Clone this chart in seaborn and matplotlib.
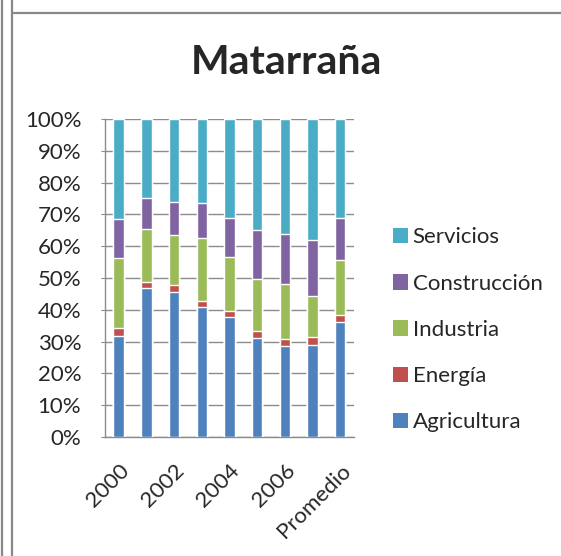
import matplotlib
matplotlib.use("Agg")
import matplotlib.pyplot as plt
import seaborn as sns
import pandas as pd
import numpy as np
from matplotlib.patches import Patch
from matplotlib.lines import Line2D
from matplotlib.ticker import PercentFormatter

# Data (share of each sector, %)
years = ["2000", "2001", "2002", "2003", "2004", "2005", "2006", "2007", "Promedio"]
agricultura = [31.8, 47.0, 45.7, 40.8, 37.6, 31.1, 28.7, 29.0, 36.3]
energia = [2.5, 1.8, 2.0, 2.0, 1.9, 2.1, 2.0, 2.5, 2.0]
industria = [21.9, 16.6, 15.7, 19.9, 17.0, 16.4, 17.4, 12.9, 17.5]
construccion = [12.5, 9.7, 10.6, 10.8, 12.5, 15.5, 15.8, 17.5, 13.2]
servicios = [31.3, 24.9, 26.0, 26.5, 31.0, 34.9, 36.1, 38.1, 31.0]

sectors = ["Agricultura", "Energía", "Industria", "Construcción", "Servicios"]
colors = ["#4F81BD", "#C0504D", "#9BBB59", "#8064A2", "#4BACC6"]

df = pd.DataFrame({"Año": years, "Agricultura": agricultura, "Energía": energia,
                   "Industria": industria, "Construcción": construccion,
                   "Servicios": servicios})

# normalise to 100% and build cumulative tops
vals = df[sectors].div(df[sectors].sum(axis=1), axis=0) * 100
cum = vals.cumsum(axis=1)

sns.set_style("white")
plt.rcParams["font.family"] = ["Lato", "DejaVu Sans"]

fig = plt.figure(figsize=(5.61, 5.56), dpi=100)
ax = fig.add_axes([0.187, 0.214, 0.444, 0.572])

# draw from the top layer down so each stack shows through
for s, c in reversed(list(zip(sectors, colors))):
    sns.barplot(x=df["Año"], y=cum[s], color=c, width=0.38, saturation=1,
                ax=ax, zorder=3)

ax.set_ylim(0, 100)
ax.set_yticks(np.arange(0, 101, 10))
ax.yaxis.set_major_formatter(PercentFormatter(decimals=0))
ax.grid(axis="y", color="#8c8c8c", linewidth=1.0, zorder=0)
ax.set_axisbelow(True)
ax.set_xlim(-0.5, len(years) - 0.5)
ax.set_xticks(range(0, len(years), 2))
ax.set_xticklabels(years[::2], rotation=45, ha="right", rotation_mode="anchor")
ax.set_xlabel("")
ax.set_ylabel("")
for side in ["top", "right"]:
    ax.spines[side].set_visible(False)
for side in ["left", "bottom"]:
    ax.spines[side].set_color("#8c8c8c")
    ax.spines[side].set_linewidth(1.0)
ax.tick_params(axis="y", labelsize=16, length=3, color="#8c8c8c", left=True, pad=14)
ax.tick_params(axis="x", labelsize=16, length=0, pad=17)

fig.text(0.51, 0.888, "Matarraña", ha="center", va="center",
         fontsize=29.5, fontweight="bold")

handles = [Patch(facecolor=c, edgecolor="none") for c in reversed(colors)]
fig.legend(handles, list(reversed(sectors)), loc="upper left",
           bbox_to_anchor=(0.684, 0.607), frameon=False, fontsize=16,
           handlelength=0.7, handleheight=0.7, handletextpad=0.2,
           labelspacing=1.18, borderaxespad=0)

# outer frame lines
for x in [2 / 561, 12 / 561]:
    fig.add_artist(Line2D([x, x], [0, 1], color="#888888", linewidth=1.6))
fig.add_artist(Line2D([12 / 561, 1], [1 - 13 / 556, 1 - 13 / 556],
                      color="#888888", linewidth=1.6))

fig.savefig("out.png", dpi=100)
